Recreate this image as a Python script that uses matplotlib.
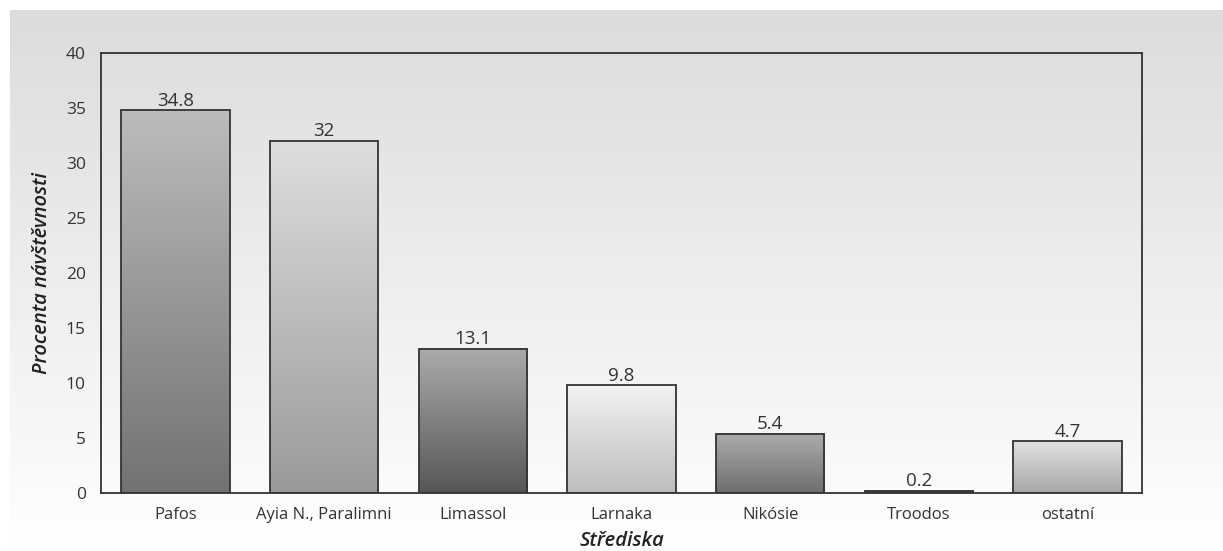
import numpy as np
import matplotlib.pyplot as plt
from matplotlib.colors import LinearSegmentedColormap

plt.rcParams['font.family'] = ['Open Sans', 'DejaVu Sans']

strediska = ['Pafos', 'Ayia N., Paralimni', 'Limassol', 'Larnaka', 'Nikósie', 'Troodos', 'ostatní']
procenta = [34.8, 32, 13.1, 9.8, 5.4, 0.2, 4.7]
# top / bottom shade for every bar
barva_nahore = ['#bcbcbc', '#dedede', '#ababab', '#f2f2f2', '#acacac', '#a0a0a0', '#e0e0e0']
barva_dole = ['#727272', '#9a9a9a', '#565656', '#bdbdbd', '#6e6e6e', '#909090', '#a8a8a8']
yticks = [0, 5, 10, 15, 20, 25, 30, 35, 40]

fig = plt.figure(figsize=(12.23, 5.51), dpi=100)
fig.patch.set_facecolor('white')

# grey-to-white backdrop behind everything
bg = fig.add_axes([10 / 1223, 0, 1 - 10 / 1223, 1 - 10 / 551], zorder=0)
grad = np.linspace(0, 1, 256).reshape(-1, 1)
bg_cmap = LinearSegmentedColormap.from_list('bg', ['#dcdcdc', '#ffffff'])
bg.imshow(grad, aspect='auto', cmap=bg_cmap, extent=(0, 1, 0, 1), origin='upper')
bg.set_axis_off()

ax = fig.add_axes([101 / 1223, 1 - 493 / 551, (1142 - 101) / 1223, (493 - 53) / 551], zorder=1)
ax.patch.set_alpha(0)

x = np.arange(len(strediska))
w = 0.73
bars = ax.bar(x, procenta, width=w, facecolor='none', edgecolor='#333333', linewidth=1.3, zorder=3)

for i, b in enumerate(bars):
    cmap = LinearSegmentedColormap.from_list('b%d' % i, [barva_nahore[i], barva_dole[i]])
    ax.imshow(grad, aspect='auto', cmap=cmap, origin='upper', zorder=2,
              extent=(b.get_x(), b.get_x() + b.get_width(), 0, b.get_height()))
    ax.text(b.get_x() + b.get_width() / 2, b.get_height() + 0.05, '{:g}'.format(procenta[i]),
            ha='center', va='bottom', fontsize=13.5, color='#333333')

ax.set_xlim(-0.5, len(strediska) - 0.5)
ax.set_ylim(0, 40)
ax.set_xticks(x)
ax.set_xticklabels(strediska)
ax.set_yticks(yticks)
ax.tick_params(length=0, labelsize=12, labelcolor='#333333')
ax.tick_params(axis='y', labelsize=12.5, pad=11)
ax.tick_params(axis='x', pad=10)
for s in ax.spines.values():
    s.set_color('#333333')
    s.set_linewidth(1.3)

ax.set_xlabel('Střediska', style='italic', weight='semibold', fontsize=14.5, color='#222222', labelpad=6)
ax.set_ylabel('Procenta návštěvnosti', style='italic', weight='semibold', fontsize=14.5,
              color='#222222', labelpad=10)

fig.savefig('out.png', dpi=100)
